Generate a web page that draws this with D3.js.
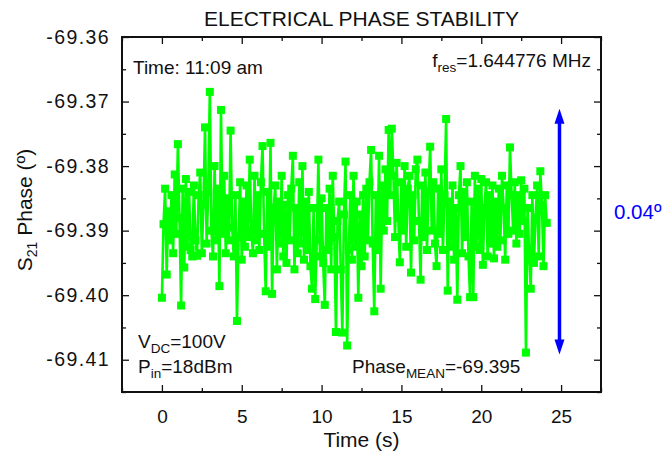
<!DOCTYPE html>
<html>
<head>
<meta charset="utf-8">
<script src="https://cdn.jsdelivr.net/npm/d3@7"></script>
<style>
  body { margin: 0; background: #fff; }
  text { font-family: "Liberation Sans", Arial, Helvetica, sans-serif; fill: #111; }
</style>
</head>
<body>
<svg id="chart"></svg>
<script>
// sampled phase of S21, one reading every sampleInterval seconds starting at t = 0
const sampleInterval = 0.1;
const phase = [
  -69.4004, -69.3890, -69.3835, -69.3968, -69.3870, -69.3915, -69.3845, -69.3935, -69.3813, -69.3905,
  -69.3766, -69.3880, -69.4016, -69.3835, -69.3957, -69.3820, -69.3925, -69.3840, -69.3930, -69.3940,
  -69.3830, -69.3915, -69.3939, -69.3845, -69.3810, -69.3935, -69.3860, -69.3740, -69.3920, -69.3840,
  -69.3685, -69.3900, -69.3940, -69.3800, -69.3915, -69.3835, -69.3986, -69.3713, -69.3905, -69.3815,
  -69.3935, -69.3850, -69.3915, -69.3745, -69.3895, -69.3940, -69.3845, -69.4040, -69.3910, -69.3825,
  -69.3945, -69.3855, -69.3925, -69.3830, -69.3910, -69.3790, -69.3900, -69.3935, -69.3815, -69.3915,
  -69.3845, -69.3930, -69.3825, -69.3769, -69.3905, -69.3994, -69.3840, -69.3925, -69.3764, -69.3998,
  -69.3865, -69.3830, -69.3960, -69.3855, -69.3920, -69.3815, -69.3940, -69.3860, -69.3950, -69.3845,
  -69.3915, -69.3835, -69.3784, -69.3960, -69.3865, -69.3935, -69.3825, -69.3920, -69.3800, -69.3945,
  -69.3855, -69.3930, -69.3840, -69.3955, -69.3990, -69.3865, -69.4006, -69.3915, -69.3790, -69.3940,
  -69.3850, -69.3950, -69.4015, -69.3865, -69.3930, -69.3835, -69.3960, -69.3815, -69.3910, -69.4057,
  -69.3885, -69.3855, -69.3960, -69.4058, -69.3875, -69.3793, -69.4078, -69.3930, -69.3845, -69.3945,
  -69.3815, -69.3925, -69.3855, -69.4004, -69.3875, -69.3955, -69.3845, -69.3940, -69.3835, -69.3915,
  -69.3825, -69.3775, -69.3920, -69.4025, -69.3845, -69.3930, -69.3784, -69.3990, -69.3830, -69.3900,
  -69.3805, -69.3885, -69.3744, -69.3845, -69.3742, -69.3815, -69.3910, -69.3795, -69.3880, -69.3949,
  -69.3825, -69.3900, -69.3800, -69.3925, -69.3835, -69.3815, -69.3965, -69.3845, -69.3915, -69.3805,
  -69.3790, -69.3885, -69.3976, -69.3830, -69.3910, -69.3810, -69.3930, -69.3840, -69.3770, -69.3900,
  -69.3825, -69.3920, -69.3955, -69.3835, -69.3905, -69.3805, -69.3930, -69.3845, -69.3727, -69.3993,
  -69.3855, -69.3925, -69.3830, -69.3945, -69.3865, -69.4007, -69.3845, -69.3800, -69.3935, -69.3840,
  -69.3910, -69.3825, -69.3940, -69.4003, -69.3855, -69.4003, -69.3815, -69.3925, -69.3835, -69.3930,
  -69.3820, -69.3953, -69.3865, -69.3825, -69.3940, -69.3845, -69.3920, -69.3830, -69.3943, -69.3855,
  -69.3925, -69.3835, -69.3915, -69.3815, -69.3865, -69.3945, -69.3830, -69.3905, -69.3771, -69.3845,
  -69.3900, -69.3825, -69.3920, -69.3845, -69.3905, -69.3822, -69.3885, -69.3835, -69.4089, -69.3865,
  -69.3935, -69.3990, -69.3845, -69.3950, -69.3880, -69.3830, -69.3940, -69.3808, -69.3860, -69.3955,
  -69.3845, -69.3888
];

const xTicks = [0, 5, 10, 15, 20, 25];
const xMinorTicks = [-2.5, 2.5, 7.5, 12.5, 17.5, 22.5, 27.5];
const yTicks = [-69.36, -69.37, -69.38, -69.39, -69.40, -69.41];
const yMinorTicks = [-69.365, -69.375, -69.385, -69.395, -69.405, -69.415];

// double arrow marking the peak-to-peak spread
const arrowTime = 24.9;
const arrowSpan = [-69.4092, -69.3711];
const arrowLabel = '0.04º';

const width = 666, height = 457;
const margin = {top: 37, right: 65, bottom: 65, left: 122};
const innerW = width - margin.left - margin.right;
const innerH = height - margin.top - margin.bottom;

const svg = d3.select('#chart')
    .attr('width', width)
    .attr('height', height);

const chart = svg.append('g')
    .attr('transform', `translate(${margin.left}, ${margin.top})`);

const xscale = d3.scaleLinear().domain([-2.5, 27.5]).range([0, innerW]);
const yscale = d3.scaleLinear().domain([-69.415, -69.36]).range([innerH, 0]);

// plain hyphen instead of the unicode minus d3 uses
const yfmt = d => d3.format('.2f')(d).replace('\u2212', '-');

// axes, ticks point inward on all four sides
function styleAxis(g) {
    g.select('.domain').remove();
    g.selectAll('line').attr('stroke', '#111').attr('stroke-width', 1.3);
    g.selectAll('text').attr('fill', '#111');
}

chart.append('g')
    .attr('transform', `translate(0, ${innerH})`)
    .call(d3.axisBottom(xscale).tickValues(xTicks).tickSize(-7).tickPadding(18).tickFormat(d3.format('d')))
    .call(styleAxis)
    .selectAll('text')
    .style('font-size', '19px')
    .style('font-family', '"Liberation Sans", Arial, sans-serif');

chart.append('g')
    .attr('transform', `translate(0, ${innerH})`)
    .call(d3.axisBottom(xscale).tickValues(xMinorTicks).tickSize(-4).tickFormat(''))
    .call(styleAxis);

chart.append('g')
    .call(d3.axisTop(xscale).tickValues(xTicks).tickSize(-7).tickFormat(''))
    .call(styleAxis);

chart.append('g')
    .call(d3.axisTop(xscale).tickValues(xMinorTicks).tickSize(-4).tickFormat(''))
    .call(styleAxis);

chart.append('g')
    .call(d3.axisLeft(yscale).tickValues(yTicks).tickSize(-7).tickPadding(12).tickFormat(yfmt))
    .call(styleAxis)
    .selectAll('text')
    .style('font-size', '19.5px')
    .style('letter-spacing', '1.4px')
    .style('font-family', '"Liberation Sans", Arial, sans-serif');

chart.append('g')
    .call(d3.axisLeft(yscale).tickValues(yMinorTicks).tickSize(-4).tickFormat(''))
    .call(styleAxis);

chart.append('g')
    .attr('transform', `translate(${innerW}, 0)`)
    .call(d3.axisRight(yscale).tickValues(yTicks).tickSize(-7).tickFormat(''))
    .call(styleAxis);

chart.append('g')
    .attr('transform', `translate(${innerW}, 0)`)
    .call(d3.axisRight(yscale).tickValues(yMinorTicks).tickSize(-4).tickFormat(''))
    .call(styleAxis);

chart.append('rect')
    .attr('width', innerW)
    .attr('height', innerH)
    .attr('fill', 'none')
    .attr('stroke', '#111')
    .attr('stroke-width', 2);

// series
const points = phase.map((v, i) => ({t: i * sampleInterval, v: v}));

const line = d3.line()
    .x(d => xscale(d.t))
    .y(d => yscale(d.v));

chart.append('path')
    .datum(points)
    .attr('d', line)
    .attr('fill', 'none')
    .attr('stroke', '#00ff00')
    .attr('stroke-width', 2.6)
    .attr('stroke-linejoin', 'miter');

const sq = 8;
chart.selectAll('rect.pt')
    .data(points)
    .enter()
    .append('rect')
    .attr('class', 'pt')
    .attr('x', d => xscale(d.t) - sq / 2)
    .attr('y', d => yscale(d.v) - sq / 2)
    .attr('width', sq)
    .attr('height', sq)
    .attr('fill', '#00ff00');

// arrow
const ax = xscale(arrowTime);
const yTop = yscale(arrowSpan[1]);
const yBot = yscale(arrowSpan[0]);
const headL = 15, headW = 5;
chart.append('line')
    .attr('x1', ax).attr('x2', ax)
    .attr('y1', yTop + headL - 2).attr('y2', yBot - headL + 2)
    .attr('stroke', '#0000ff')
    .attr('stroke-width', 3.5);
chart.append('path')
    .attr('d', `M${ax},${yTop} L${ax + headW},${yTop + headL} L${ax - headW},${yTop + headL} Z`)
    .attr('fill', '#0000ff');
chart.append('path')
    .attr('d', `M${ax},${yBot} L${ax + headW},${yBot - headL} L${ax - headW},${yBot - headL} Z`)
    .attr('fill', '#0000ff');

svg.append('text')
    .attr('x', 614)
    .attr('y', 219)
    .style('font-size', '20.5px')
    .style('fill', '#0000ff')
    .text(arrowLabel);

// titles
svg.append('text')
    .attr('x', margin.left + innerW / 2)
    .attr('y', 26)
    .attr('text-anchor', 'middle')
    .style('font-size', '21px')
    .text('ELECTRICAL PHASE STABILITY');

svg.append('text')
    .attr('x', margin.left + innerW / 2)
    .attr('y', 447)
    .attr('text-anchor', 'middle')
    .style('font-size', '21px')
    .text('Time (s)');

const ylab = svg.append('text')
    .attr('transform', `translate(32, 210) rotate(-90)`)
    .attr('text-anchor', 'middle')
    .style('font-size', '21px');
ylab.append('tspan').text('S');
ylab.append('tspan').attr('dy', 5).style('font-size', '14px').text('21');
ylab.append('tspan').attr('dy', -5).text(' Phase (º)');

// annotations
function subText(x, y, anchor, parts) {
    const t = svg.append('text')
        .attr('x', x).attr('y', y)
        .attr('text-anchor', anchor)
        .style('font-size', '19px');
    let shift = 0;
    parts.forEach(p => {
        const s = t.append('tspan').text(p.text);
        const target = p.sub ? 5 : 0;
        if (target !== shift) s.attr('dy', target - shift);
        if (p.sub) s.style('font-size', '13.5px');
        shift = target;
    });
    return t;
}

subText(133, 74, 'start', [{text: 'Time: 11:09 am'}]);
subText(591, 67, 'end', [{text: 'f'}, {text: 'res', sub: true}, {text: '=1.644776 MHz'}]);
subText(138, 348, 'start', [{text: 'V'}, {text: 'DC', sub: true}, {text: '=100V'}]);
subText(138, 373, 'start', [{text: 'P'}, {text: 'in', sub: true}, {text: '=18dBm'}]);
subText(352, 373, 'start', [{text: 'Phase'}, {text: 'MEAN', sub: true}, {text: '=-69.395'}]);
</script>
</body>
</html>
